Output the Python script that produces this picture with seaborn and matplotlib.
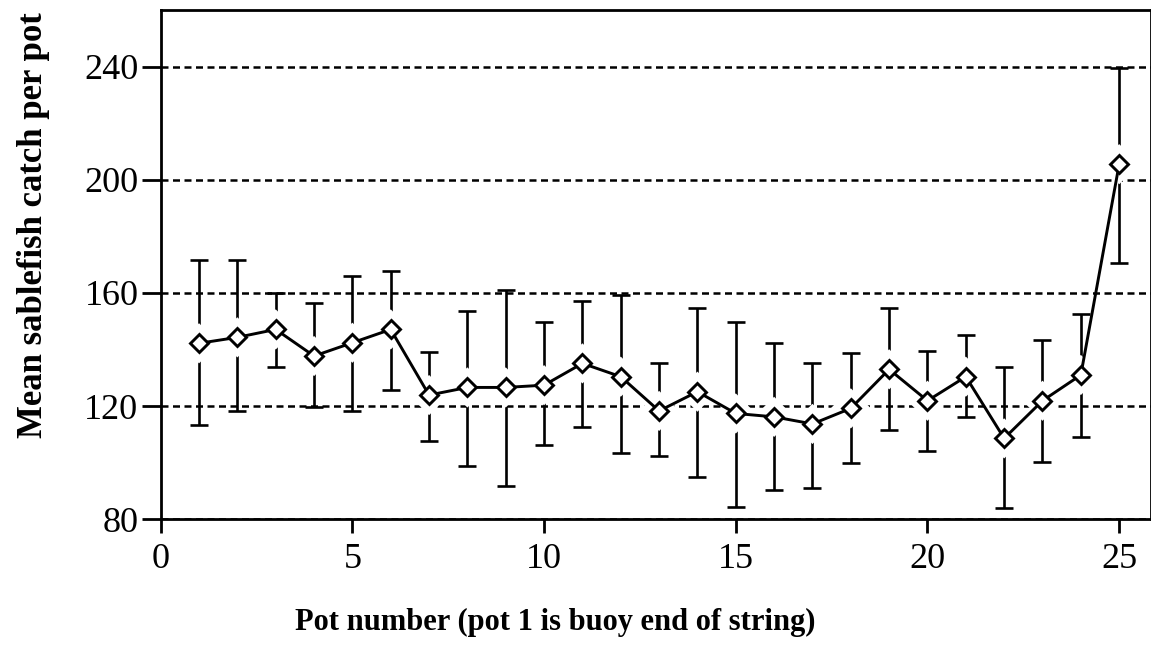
import numpy as np
import pandas as pd
import matplotlib
matplotlib.use("Agg")
import matplotlib.pyplot as plt
import seaborn as sns

# ---- data ----
pot = list(range(1, 26))
mean_catch = [142.2, 144.3, 147.1, 137.7, 142.4, 147.1, 123.9, 126.6, 126.6, 127.4,
              135.1, 130.4, 118.3, 125.1, 117.4, 116.2, 113.7, 119.2, 133.0, 121.9,
              130.4, 108.6, 121.9, 131.0, 205.5]
upper = [171.6, 171.6, 160.0, 156.5, 165.9, 167.8, 139.2, 153.7, 161.2, 149.8,
         157.2, 159.2, 135.1, 154.5, 149.8, 142.4, 135.1, 138.8, 154.5, 139.6,
         145.1, 133.9, 143.3, 152.5, 239.5]
lower = [113.3, 118.3, 133.9, 119.8, 118.3, 125.7, 107.8, 98.8, 91.9, 106.2,
         112.7, 103.3, 102.4, 95.0, 84.5, 90.4, 91.2, 99.8, 111.5, 104.2,
         116.0, 83.9, 100.3, 109.2, 170.4]
yticks = [80, 120, 160, 200, 240]
xticks = [0, 5, 10, 15, 20, 25]

df = pd.DataFrame({"pot": pot, "mean": mean_catch, "upper": upper, "lower": lower})

sns.set_theme(style="white")
plt.rcParams["font.family"] = ["Liberation Serif", "DejaVu Serif"]

fig = plt.figure(figsize=(11.51, 6.56), dpi=100)
ax = fig.add_axes([0.1396, 0.2084, 0.8604, 0.7764])

# dashed horizontal grid
for yv in yticks:
    ax.axhline(yv, color="black", linestyle=(0, (2.8, 1.8)), linewidth=1.8, zorder=1)

# error bars
yerr = np.vstack([df["mean"] - df["lower"], df["upper"] - df["mean"]])
ax.errorbar(df["pot"], df["mean"], yerr=yerr, fmt="none", ecolor="black",
            elinewidth=1.9, capsize=6.5, capthick=1.9, zorder=2)

# white halo around markers (gaps in error bars)
ax.scatter(df["pot"], df["mean"], marker="D", s=420, color="white",
           edgecolors="none", zorder=3)

# line with open diamond markers
sns.lineplot(data=df, x="pot", y="mean", ax=ax, color="black", linewidth=2.1,
             marker="D", markersize=9.5, markerfacecolor="white",
             markeredgecolor="black", markeredgewidth=2.1, zorder=4)

ax.set_xlim(0, 25.83)
ax.set_ylim(80, 260)
ax.set_xticks(xticks)
ax.set_yticks(yticks)

for side in ["left", "top", "bottom", "right"]:
    ax.spines[side].set_color("black")
    ax.spines[side].set_linewidth(2.0)

ax.tick_params(axis="x", direction="out", length=10, width=2, colors="black",
               labelsize=26, pad=7, bottom=True)
ax.tick_params(axis="y", direction="out", length=14, width=2, colors="black",
               labelsize=26, pad=2, left=True)

ax.set_xlabel("Pot number (pot 1 is buoy end of string)", fontsize=22,
              fontweight="bold", color="black")
ax.xaxis.label.set_va("center")
ax.xaxis.set_label_coords(0.398, -0.2017)

ax.set_ylabel("Mean sablefish catch per pot", fontsize=25, fontweight="bold",
              color="black")
ax.yaxis.label.set_va("center")
ax.yaxis.set_label_coords(-0.128, 0.578)

fig.savefig("out.png", dpi=100)
